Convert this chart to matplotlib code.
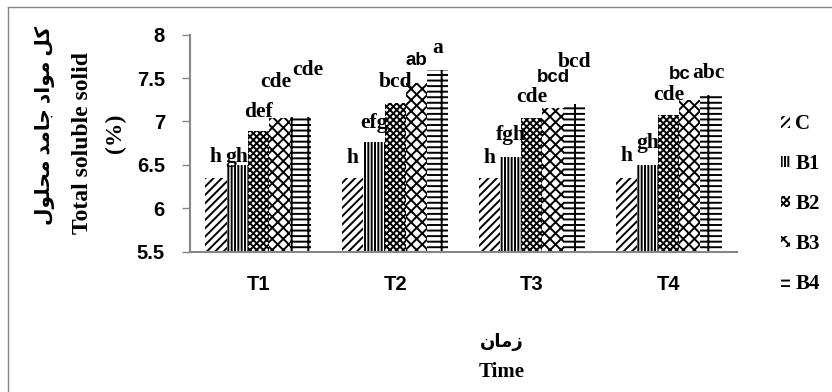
import matplotlib.pyplot as plt
import matplotlib.transforms as mtransforms
import numpy as np
from matplotlib.lines import Line2D
from matplotlib.patches import Patch

# ==================================
# DATA
# ==================================

times = ["T1", "T2", "T3", "T4"]
treatments = ["C", "B1", "B2", "B3", "B4"]

# mean TSS (%) per treatment, one list per treatment across T1..T4
C = [6.35, 6.35, 6.35, 6.35]
B1 = [6.50, 6.76, 6.59, 6.50]
B2 = [6.89, 7.21, 7.04, 7.07]
B3 = [7.04, 7.44, 7.16, 7.25]
B4 = [7.05, 7.59, 7.20, 7.31]

# hidden error (SD) used to place the letters
sd_C = [0.18, 0.17, 0.17, 0.19]
sd_B1 = [0.03, 0.16, 0.20, 0.19]
sd_B2 = [0.16, 0.19, 0.19, 0.18]
sd_B3 = [0.36, 0.21, 0.30, 0.24]
sd_B4 = [0.48, 0.20, 0.43, 0.19]

letters_C = ["h", "h", "h", "h"]
letters_B1 = ["gh", "efg", "fgh", "gh"]
letters_B2 = ["def", "bcd", "cde", "cde"]
letters_B3 = ["cde", "ab", "bcd", "bc"]
letters_B4 = ["cde", "a", "bcd", "abc"]

values = [C, B1, B2, B3, B4]
sds = [sd_C, sd_B1, sd_B2, sd_B3, sd_B4]
letters = [letters_C, letters_B1, letters_B2, letters_B3, letters_B4]

hatches = ["////", "|||||", "xxxxx", "xxx", "+--"]

# persian text written as shaped presentation forms in visual order
ylabel_fa = "\ufedd\ufeee\ufee0\ufea4\ufee3 \ufeaa\ufee3\ufe8e\ufe9f \ufea9\ufe8d\ufeee\ufee3 \ufede\ufb90"
xlabel_fa = "\ufee5\ufe8e\ufee3\ufeaf"

# small sideways nudges (pixels) for crowded letter labels: (treatment, time)
nudge = {(3, 0): -4, (4, 0): 7, (3, 3): -10, (4, 3): -3}

# ==================================
# STYLE
# ==================================

plt.rcParams["hatch.linewidth"] = 1.4
serif = ["Liberation Serif", "DejaVu Sans"]
sans = ["Liberation Sans", "DejaVu Sans"]
gray = "#868686"

W, H = 832, 392
fig = plt.figure(figsize=(W / 100, H / 100), dpi=100)
ax = fig.add_axes([190 / W, 1 - 251.7 / H, (737 - 190) / W, (251.7 - 34.7) / H])

x = np.arange(len(times))
bw = 0.155

for i, name in enumerate(treatments):
    pos = x + (i - 2) * bw
    ax.bar(pos, values[i], bw, bottom=0, color="white", edgecolor="black",
           linewidth=0, hatch=hatches[i], label=name)
    for j in range(len(times)):
        if i == 3 and j > 0:
            fam, fs = sans, 13.5
        else:
            fam, fs = serif, 15.5
        dx = nudge.get((i, j), 0)
        tr = ax.transData + mtransforms.ScaledTranslation(dx / 100, 0,
                                                          fig.dpi_scale_trans)
        ax.text(pos[j], values[i][j] + sds[i][j], letters[i][j],
                ha="center", va="baseline", fontsize=fs,
                fontweight="bold", family=fam, transform=tr)

ax.set_ylim(5.5, 8)
ax.set_xlim(-0.5, 3.5)
ax.set_yticks([5.5, 6, 6.5, 7, 7.5, 8])
ax.set_yticklabels(["5.5", "6", "6.5", "7", "7.5", "8"])
ax.set_xticks(x)
ax.set_xticklabels(times)

for lab in ax.get_yticklabels() + ax.get_xticklabels():
    lab.set_family(sans)
    lab.set_fontweight("bold")
    lab.set_fontsize(14.5)

ax.tick_params(axis="y", length=6, color=gray, width=1, pad=12)
ax.tick_params(axis="x", length=0, pad=17)

for s in ["top", "right"]:
    ax.spines[s].set_visible(False)
for s in ["left", "bottom"]:
    ax.spines[s].set_color(gray)
    ax.spines[s].set_linewidth(1.5)

# ==================================
# AXIS TITLES
# ==================================

fig.text(45 / W, 1 - 125 / H, ylabel_fa, rotation=90, ha="center", va="center",
         fontsize=14.5, fontweight="bold", family=serif)
fig.text(83 / W, 1 - 143 / H, "Total soluble solid", rotation=90, ha="center",
         va="center", fontsize=17, fontweight="bold", family=serif)
fig.text(115 / W, 1 - 133 / H, "(%)", rotation=90, ha="center", va="center",
         fontsize=17, fontweight="bold", family=serif)

fig.text(502 / W, 1 - 342 / H, xlabel_fa, ha="center", va="center",
         fontsize=13, fontweight="bold", family=serif)
fig.text(502 / W, 1 - 372 / H, "Time", ha="center", va="center",
         fontsize=15, fontweight="bold", family=serif)

# ==================================
# LEGEND
# ==================================

handles = [Patch(facecolor="white", edgecolor="black", linewidth=0,
                 hatch=hatches[i], label=treatments[i])
           for i in range(len(treatments))]
fig.legend(handles=handles, loc="center left",
           bbox_to_anchor=(762 / W, 1 - 204 / H), frameon=False,
           handlelength=0.45, handleheight=0.45, handletextpad=0.25,
           labelspacing=0.95, prop={"family": serif, "weight": "bold",
                                    "size": 15})

# ==================================
# CHART BORDER
# ==================================

fig.add_artist(Line2D([8 / W, 1], [1 - 7 / H, 1 - 7 / H], color=gray, lw=1))
fig.add_artist(Line2D([8 / W, 8 / W], [0, 1 - 7 / H], color=gray, lw=1))

fig.savefig("out.png", dpi=100)
